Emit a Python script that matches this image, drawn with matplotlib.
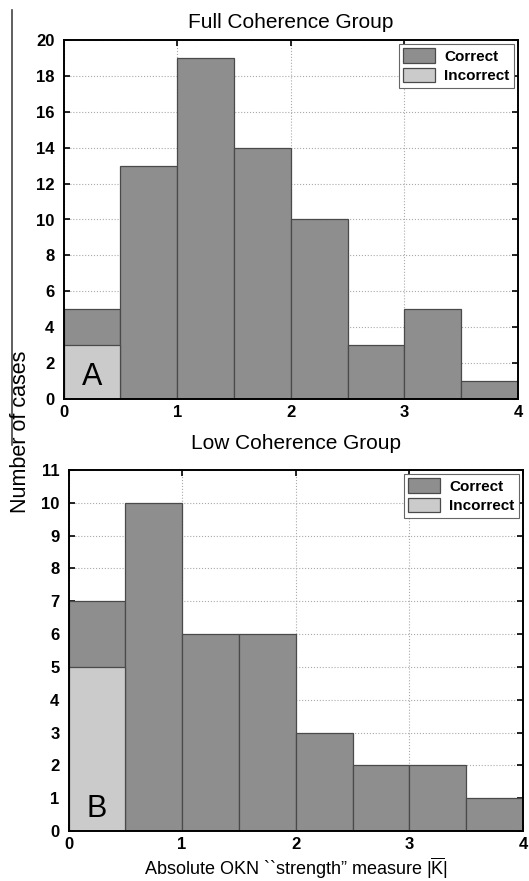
import matplotlib

matplotlib.use("Agg")
import matplotlib.pyplot as plt  # noqa: E402
from matplotlib.lines import Line2D  # noqa: E402

plt.rcParams["font.family"] = ["Liberation Sans", "DejaVu Sans"]
plt.rcParams["mathtext.fontset"] = "custom"
plt.rcParams["mathtext.rm"] = "Liberation Sans"

# histogram bins of |K| (left edges, width 0.5)
bin_left = [0.0, 0.5, 1.0, 1.5, 2.0, 2.5, 3.0, 3.5]

full_incorrect = [3, 0, 0, 0, 0, 0, 0, 0]
full_total = [5, 13, 19, 14, 10, 3, 5, 1]

low_incorrect = [5, 0, 0, 0, 0, 0, 0, 0]
low_total = [7, 10, 6, 6, 3, 2, 2, 1]

panels = [
    ("Full Coherence Group", "A", full_total, full_incorrect, 20, range(0, 21, 2), 9),
    ("Low Coherence Group", "B", low_total, low_incorrect, 11, range(0, 12), 15),
]

C_CORRECT = "#8e8e8e"
C_INCORRECT = "#cbcbcb"
EDGE = "#4a4a4a"

fig = plt.figure(figsize=(5.29, 8.81), dpi=100)
rects = [
    [63.5 / 529, 1 - 399 / 881, (518 - 63.5) / 529, (399 - 40) / 881],
    [68.5 / 529, 1 - 831 / 881, (523 - 68.5) / 529, (831 - 470) / 881],
]

for rect, (title, letter, total, incorrect, ymax, yticks, tpad) in zip(rects, panels):
    ax = fig.add_axes(rect)
    ax.set_axisbelow(True)
    ax.bar(bin_left, total, width=0.5, align="edge", color=C_CORRECT,
           edgecolor=EDGE, linewidth=0.9, label="Correct")
    ax.bar(bin_left, incorrect, width=0.5, align="edge", color=C_INCORRECT,
           edgecolor=EDGE, linewidth=0.9, label="Incorrect")
    ax.set_xlim(0, 4)
    ax.set_ylim(0, ymax)
    ax.set_xticks([0, 1, 2, 3, 4])
    ax.set_yticks(list(yticks))
    ax.grid(True, linestyle=":", color="#aaaaaa", linewidth=0.8)
    ax.tick_params(direction="in", top=True, right=True, length=4, width=1.2,
                   labelsize=12, pad=4)
    ax.tick_params(axis="y", pad=6.5)
    for lab in ax.get_xticklabels() + ax.get_yticklabels():
        lab.set_fontweight("bold")
    for sp in ax.spines.values():
        sp.set_linewidth(1.4)
    ax.set_title(title, fontsize=15, pad=tpad)
    ax.text(0.25, ymax * 0.02, letter, fontsize=22, ha="center", va="bottom")
    leg = ax.legend(loc="upper right", prop={"weight": "bold", "size": 11},
                    fancybox=False, edgecolor="#666666", framealpha=1,
                    borderaxespad=0.25, handlelength=2.1, handleheight=1.1,
                    handletextpad=0.6, borderpad=0.3, labelspacing=0.25)
    leg.get_frame().set_linewidth(0.8)

ax.set_xlabel("Absolute OKN ``strength\u201d measure |$\\overline{\\mathrm{K}}$|",
              fontsize=13, labelpad=3)

fig.text(21 / 529, 1 - 432 / 881, "Number of cases", rotation=90,
         ha="center", va="center", fontsize=15.5)
fig.add_artist(Line2D([12 / 529, 12 / 529], [1 - 10 / 881, 1 - 445 / 881],
                      color="#444444", linewidth=1.2))

fig.savefig("out.png", dpi=100)
